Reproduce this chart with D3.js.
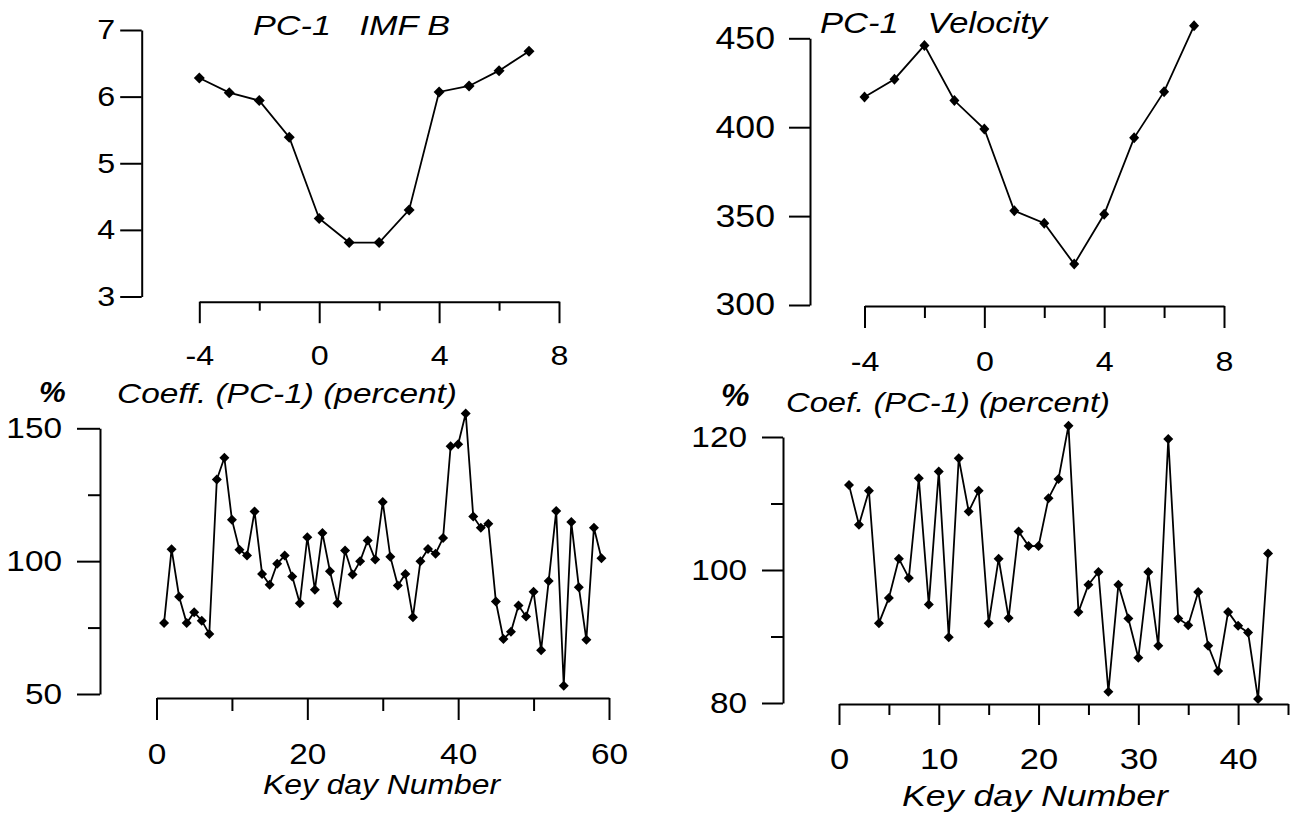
<!DOCTYPE html>
<html>
<head>
<meta charset="utf-8">
<script src="https://cdn.jsdelivr.net/npm/d3@7/dist/d3.min.js"></script>
<style>
  body { margin: 0; background: #fff; }
  svg text { font-family: "Liberation Sans", Arial, sans-serif; fill: #000; }
</style>
</head>
<body>
<svg id="chart" width="1292" height="819"></svg>
<script>
// ---- data ----
var keyDays = [-4, -3, -2, -1, 0, 1, 2, 3, 4, 5, 6, 7];
var imfB = [6.28, 6.06, 5.94, 5.39, 4.17, 3.81, 3.81, 4.30, 6.07, 6.16, 6.39, 6.68];
var velocity = [417, 427, 446, 415, 399, 353, 346, 323, 351, 394, 420, 457];

// coefficient of PC-1 per key day (day number = position, starting at 1)
var coeffImf = [76.7, 104.5, 86.6, 76.7, 80.8, 77.6, 72.6, 130.7, 138.9, 115.6,
  104.3, 102.1, 118.7, 95.2, 91.1, 99.0, 102.1, 94.2, 84.2, 109.0,
  89.2, 110.6, 96.2, 84.2, 104.0, 95.0, 100.0, 107.8, 100.6, 122.3,
  101.7, 90.8, 95.2, 78.9, 100.0, 104.6, 102.8, 108.7, 143.2, 144.0,
  155.6, 116.8, 112.6, 114.1, 84.8, 70.7, 73.4, 83.3, 79.2, 88.5,
  66.5, 92.5, 118.9, 53.1, 114.7, 90.2, 70.4, 112.6, 101.1];
var coeffVel = [112.8, 106.8, 111.9, 92.0, 95.8, 101.7, 98.8, 113.8, 94.8, 114.8,
  89.9, 116.8, 108.8, 111.9, 92.0, 101.7, 92.8, 105.8, 103.6, 103.6,
  110.8, 113.7, 121.7, 93.7, 97.8, 99.7, 81.7, 97.8, 92.7, 86.8,
  99.7, 88.6, 119.7, 92.7, 91.7, 96.7, 88.6, 84.8, 93.7, 91.6,
  90.6, 80.6, 102.5];

var svg = d3.select("#chart");

function diamond(w, h) {
    return "M0," + (-h / 2) + "L" + (w / 2) + ",0L0," + (h / 2) + "L" + (-w / 2) + ",0Z";
}

// plain labels, hyphen for negatives like the original
var plain = function (d) { return String(d); };

function drawPanel(p) {
    var x = d3.scaleLinear().domain(p.xDomain).range(p.xRange);
    var y = d3.scaleLinear().domain(p.yDomain).range(p.yRange);
    var g = svg.append("g");

    // y axis
    var ya = g.append("g")
        .attr("transform", "translate(" + p.yAxisX + ",0)")
        .call(d3.axisLeft(y).tickValues(p.yMajor).tickSize(p.yTick)
            .tickSizeOuter(0).tickPadding(p.yPad).tickFormat(plain));
    ya.selectAll("text").attr("font-size", p.yFont).attr("class", "stretch");
    if (p.yMinor.length) {
        var ym = g.append("g")
            .attr("transform", "translate(" + p.yAxisX + ",0)")
            .call(d3.axisLeft(y).tickValues(p.yMinor).tickSize(p.yMinorTick).tickFormat(""));
        ym.select(".domain").remove();
    }

    // x axis
    var xa = g.append("g")
        .attr("transform", "translate(0," + p.xAxisY + ")")
        .call(d3.axisBottom(x).tickValues(p.xMajor).tickSize(p.xTick)
            .tickSizeOuter(0).tickPadding(p.xPad).tickFormat(plain));
    xa.selectAll("text").attr("font-size", p.xFont).attr("class", "stretch");
    var xm = g.append("g")
        .attr("transform", "translate(0," + p.xAxisY + ")")
        .call(d3.axisBottom(x).tickValues(p.xMinor).tickSize(p.xMinorTick).tickFormat(""));
    xm.select(".domain").remove();

    g.selectAll(".domain, .tick line").attr("stroke-width", 2);

    // series
    var line = d3.line()
        .x(function (d) { return x(d[0]); })
        .y(function (d) { return y(d[1]); });

    g.append("path")
        .datum(p.data)
        .attr("fill", "none")
        .attr("stroke", "#000")
        .attr("stroke-width", 1.8)
        .attr("d", line);

    g.selectAll(".pt")
        .data(p.data)
        .enter().append("path")
        .attr("class", "pt")
        .attr("transform", function (d) { return "translate(" + x(d[0]) + "," + y(d[1]) + ")"; })
        .attr("d", diamond(p.mark[0], p.mark[1]))
        .attr("fill", "#000");
}

function pairs(xs, ys) {
    return ys.map(function (v, i) { return [xs[i], v]; });
}
function byDay(ys) {
    return ys.map(function (v, i) { return [i + 1, v]; });
}

// 1. PC-1 IMF B
drawPanel({
    data: pairs(keyDays, imfB),
    xDomain: [-4, 8], xRange: [199.3, 559],
    yDomain: [3, 7], yRange: [296.5, 30],
    yAxisX: 141.7, xAxisY: 301.7,
    yMajor: [3, 4, 5, 6, 7], yMinor: [],
    yTick: 21.5, yMinorTick: 0, yPad: 5, yFont: 28,
    xMajor: [-4, 0, 4, 8], xMinor: [-2, 2, 6],
    xTick: 21.5, xMinorTick: 9, xPad: 22, xFont: 28,
    mark: [11, 11]
});

// 2. PC-1 Velocity
drawPanel({
    data: pairs(keyDays, velocity),
    xDomain: [-4, 8], xRange: [864.5, 1224],
    yDomain: [300, 450], yRange: [305, 38.3],
    yAxisX: 810, xAxisY: 306,
    yMajor: [300, 350, 400, 450], yMinor: [],
    yTick: 21, yMinorTick: 0, yPad: 14, yFont: 31,
    xMajor: [-4, 0, 4, 8], xMinor: [-2, 2, 6],
    xTick: 22, xMinorTick: 12, xPad: 23.5, xFont: 28,
    mark: [10, 11]
});

// 3. Coeff for IMF B
drawPanel({
    data: byDay(coeffImf),
    xDomain: [0, 60], xRange: [156.5, 609],
    yDomain: [50, 150], yRange: [694, 428.3],
    yAxisX: 100, xAxisY: 698,
    yMajor: [50, 100, 150], yMinor: [75, 125],
    yTick: 23, yMinorTick: 12, yPad: 15, yFont: 29,
    xMajor: [0, 20, 40, 60], xMinor: [10, 30, 50],
    xTick: 22, xMinorTick: 13, xPad: 23, xFont: 29,
    mark: [10, 10]
});

// 4. Coeff for velocity
drawPanel({
    data: byDay(coeffVel),
    xDomain: [0, 45], xRange: [839, 1288],
    yDomain: [80, 120], yRange: [703, 437],
    yAxisX: 783, xAxisY: 704,
    yMajor: [80, 100, 120], yMinor: [90, 110],
    yTick: 21, yMinorTick: 12, yPad: 15, yFont: 29,
    xMajor: [0, 10, 20, 30, 40], xMinor: [5, 15, 25, 35, 45],
    xTick: 21, xMinorTick: 11, xPad: 23, xFont: 30,
    mark: [10, 10]
});

// labels
var labels = [
    { t: "PC-1   IMF B", x: 253, y: 35, w: 197, fs: 28 },
    { t: "PC-1   Velocity", x: 820, y: 33, w: 227, fs: 29 },
    { t: "Coeff. (PC-1) (percent)", x: 117, y: 403, w: 340, fs: 28 },
    { t: "Coef. (PC-1) (percent)", x: 786, y: 412, w: 324, fs: 28 },
    { t: "Key day Number", x: 263, y: 794, w: 237, fs: 28 },
    { t: "Key day Number", x: 902, y: 806, w: 266, fs: 29 }
];
svg.selectAll(".lbl")
    .data(labels)
    .enter().append("text")
    .attr("class", "lbl")
    .attr("x", function (d) { return d.x; })
    .attr("y", function (d) { return d.y; })
    .attr("font-size", function (d) { return d.fs; })
    .attr("font-style", "italic")
    .attr("textLength", function (d) { return d.w; })
    .attr("lengthAdjust", "spacingAndGlyphs")
    .style("white-space", "pre")
    .text(function (d) { return d.t; });

svg.append("text").attr("x", 39).attr("y", 402).attr("font-size", 30)
    .attr("font-style", "italic").attr("font-weight", "bold").text("%");
svg.append("text").attr("x", 721).attr("y", 406).attr("font-size", 32)
    .attr("font-style", "italic").attr("font-weight", "bold").text("%");

// the scanned figure's digits are a bit wider than Arial
svg.selectAll("text.stretch").each(function () {
    var w = this.getComputedTextLength();
    d3.select(this).attr("textLength", w * 1.15).attr("lengthAdjust", "spacingAndGlyphs");
});
</script>
</body>
</html>
